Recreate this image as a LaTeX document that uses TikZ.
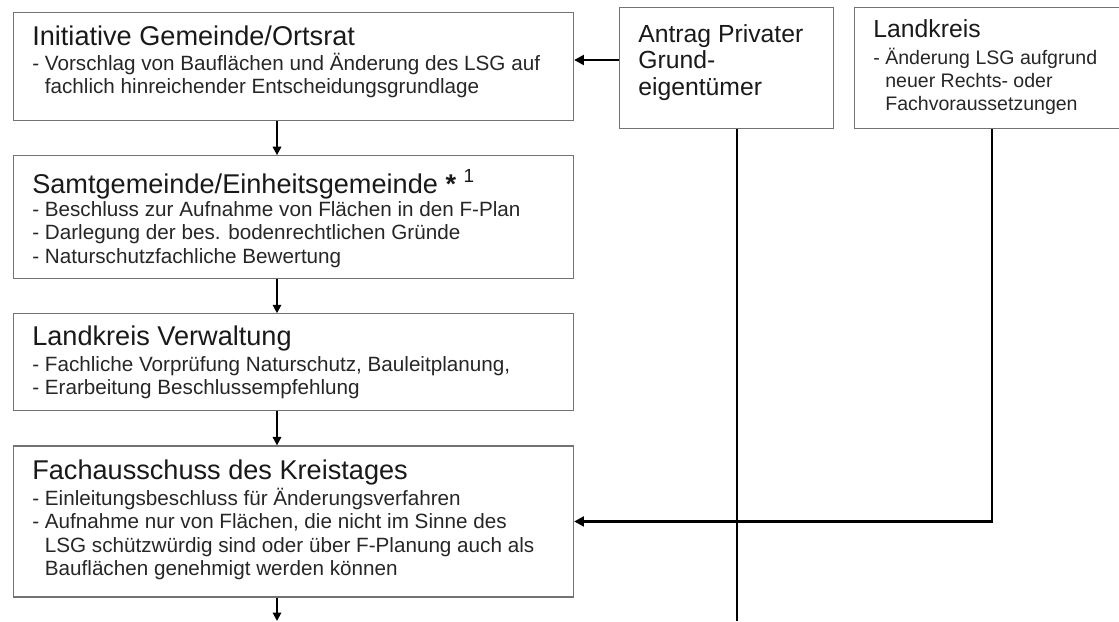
\documentclass[tikz,border=0pt]{standalone}
\usepackage{fontspec}
\setmainfont{Liberation Sans}
\usetikzlibrary{positioning, arrows.meta}

\tikzset{
  box/.style={draw=black!55, line width=0.8pt, inner sep=0pt, minimum width=14cm},
  srcbox/.style={draw=black!55, line width=0.8pt, inner sep=0pt, minimum height=3.025cm},
  head/.style={anchor=base west, inner sep=0pt, text=black!90, font=\fontsize{19.3}{22}\selectfont},
  srchead/.style={anchor=base west, inner sep=0pt, text=black!90, font=\fontsize{17.6}{18.85}\selectfont},
  body/.style={anchor=base west, inner sep=0pt, text=black!85, font=\fontsize{14.7}{16.7}\selectfont},
  srcbody/.style={anchor=base west, inner sep=0pt, text=black!85, font=\fontsize{13.9}{16.6}\selectfont},
  flow/.style={line width=1.3pt, -{Triangle[length=6pt, width=6pt]}},
  feed/.style={line width=2.1pt, -{Triangle[length=7pt, width=7pt]}},
}
\newcommand{\ind}{\phantom{- }}
\newcommand{\rows}[1]{\begin{tabular}[t]{@{}l@{}}#1\end{tabular}}

\begin{document}
\begin{tikzpicture}
  \useasboundingbox (0,0) rectangle (27.975,-15.525);

  % main column
  \node[box, minimum height=2.7cm, anchor=north west] (b1) at (0.325,-0.3) {};
  \node[box, minimum height=3.075cm, below=0.85cm of b1] (b2) {};
  \node[box, minimum height=2.425cm, below=0.85cm of b2] (b3) {};
  \node[box, minimum height=3.775cm, below=0.85cm of b3] (b4) {};

  \node[head] (t1) at ([shift={(0.475,-0.825)}]b1.north west) {Initiative Gemeinde/Ortsrat};
  \node[body] (d1) at ([shift={(0.475,-1.45)}]b1.north west)
    {\rows{- Vorschlag von Bauflächen und Änderung des LSG auf\\ \ind fachlich hinreichender Entscheidungsgrundlage}};

  \node[head] (t2) at ([shift={(0.475,-0.95)}]b2.north west) {Samtgemeinde/Einheitsgemeinde \textbf{*} \textsuperscript{1}};
  \node[body] (d2) at ([shift={(0.475,-1.525)}]b2.north west)
    {\rows{- Beschluss zur Aufnahme von Flächen in den F-Plan\\- Darlegung der bes. bodenrechtlichen Gründe\\- Naturschutzfachliche Bewertung}};

  \node[head] (t3) at ([shift={(0.475,-0.8)}]b3.north west) {Landkreis Verwaltung};
  \node[body] (d3) at ([shift={(0.475,-1.45)}]b3.north west)
    {\rows{- Fachliche Vorprüfung Naturschutz, Bauleitplanung,\\- Erarbeitung Beschlussempfehlung}};

  \node[head] (t4) at ([shift={(0.475,-0.85)}]b4.north west) {Fachausschuss des Kreistages};
  \node[body] (d4) at ([shift={(0.475,-1.5)}]b4.north west)
    {\rows{- Einleitungsbeschluss für Änderungsverfahren\\- Aufnahme nur von Flächen, die nicht im Sinne des\\ \ind LSG schützwürdig sind oder über F-Planung auch als\\ \ind Bauflächen genehmigt werden können}};

  % sources on the right
  \node[srcbox, minimum width=5.35cm, anchor=north west] (antrag) at (15.475,-0.175) {};
  \node[srcbox, minimum width=6.725cm, right=0.5cm of antrag] (lk) {};

  \node[srchead] (ta) at ([shift={(0.475,-0.875)}]antrag.north west) {\rows{Antrag Privater\\Grund-\\eigentümer}};
  \node[srchead] (tl) at ([shift={(0.475,-0.75)}]lk.north west) {Landkreis};
  \node[srcbody] (dl) at ([shift={(0.475,-1.425)}]lk.north west)
    {\rows{- Änderung LSG aufgrund\\ \ind neuer Rechts- oder\\ \ind Fachvoraussetzungen}};

  \coordinate (col) at (6.925,0);
  \coordinate (ay) at (0,-1.5);
  \coordinate (ax) at (18.425,0);
  \coordinate (lx) at (24.8,0);
  \coordinate (bot) at (0,-15.525);

  \draw[flow] (b1.south -| col) -- (b2.north -| col);
  \draw[flow] (b2.south -| col) -- (b3.north -| col);
  \draw[flow] (b3.south -| col) -- (b4.north -| col);
  \draw[flow] (b4.south -| col) -- (col |- bot);

  \draw[feed] (antrag.west |- ay) -- (b1.east |- ay);
  \draw[line width=2.1pt] (antrag.south -| ax) -- (ax |- bot);
  \draw[feed] (lk.south -| lx) |- (b4.east);
\end{tikzpicture}
\end{document}
